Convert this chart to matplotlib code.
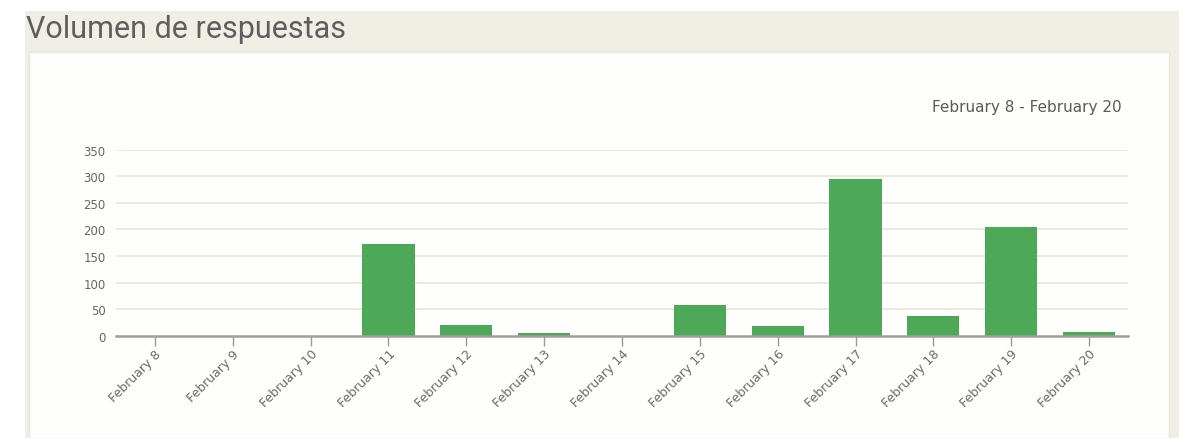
import matplotlib
matplotlib.use("Agg")
import matplotlib.pyplot as plt
from matplotlib.patches import Rectangle

categories = ["February 8", "February 9", "February 10", "February 11", "February 12",
              "February 13", "February 14", "February 15", "February 16", "February 17",
              "February 18", "February 19", "February 20"]
values = [0, 0, 0, 173, 21, 5, 0, 58, 19, 295, 37, 205, 7]
yticks = [0, 50, 100, 150, 200, 250, 300, 350]
title = "Volumen de respuestas"
date_range = "February 8 - February 20"

W, H = 1179, 439
fig = plt.figure(figsize=(W / 100, H / 100), dpi=100)
fig.patch.set_facecolor("white")

# background regions
beige = "#f1efe5"
fig.patches.append(Rectangle((25 / W, 0), (W - 25) / W, 1 - 12 / H, transform=fig.transFigure,
                             facecolor=beige, edgecolor="none", zorder=-3))
fig.patches.append(Rectangle((29 / W, 0), (1169 - 29) / W, 1 - 53 / H, transform=fig.transFigure,
                             facecolor="#fefefc", edgecolor="#ebe8da", linewidth=1, zorder=-2))

fig.text(26 / W, 1 - 38 / H, title, fontsize=22, color="#5e5e5e", family="Roboto",
         fontweight="normal", va="baseline", ha="left")
fig.text(1122 / W, 1 - 112 / H, date_range, fontsize=11, color="#5a5a5a", family="DejaVu Sans",
         va="baseline", ha="right")

ax = fig.add_axes([116 / W, 1 - 336.7 / H, (1128 - 116) / W, 186 / H])
ax.set_facecolor("none")
x = list(range(len(categories)))
ax.bar(x, values, width=0.67, color="#4da858", zorder=3)
ax.set_xlim(-0.5, len(categories) - 0.5)
ax.set_ylim(0, 350)
ax.set_yticks(yticks)
ax.set_yticklabels([str(v) for v in yticks], fontsize=8.5, color="#666666", family="DejaVu Sans")
ax.set_xticks(x)
ax.set_xticklabels(categories, rotation=45, ha="right", rotation_mode="anchor",
                   fontsize=9, color="#6a6a6a", family="DejaVu Sans")
ax.tick_params(axis="y", length=0, pad=7.5)
ax.tick_params(axis="x", length=7, color="#999999", width=1, pad=1)
for y in yticks[1:]:
    ax.axhline(y, color="#e9e5d3", linewidth=1.2, zorder=1)
for s in ["top", "right", "left"]:
    ax.spines[s].set_visible(False)
ax.spines["bottom"].set_color("#a0a0a0")
ax.spines["bottom"].set_linewidth(1.8)
ax.spines["bottom"].set_zorder(4)

fig.savefig("out.png", dpi=100)
